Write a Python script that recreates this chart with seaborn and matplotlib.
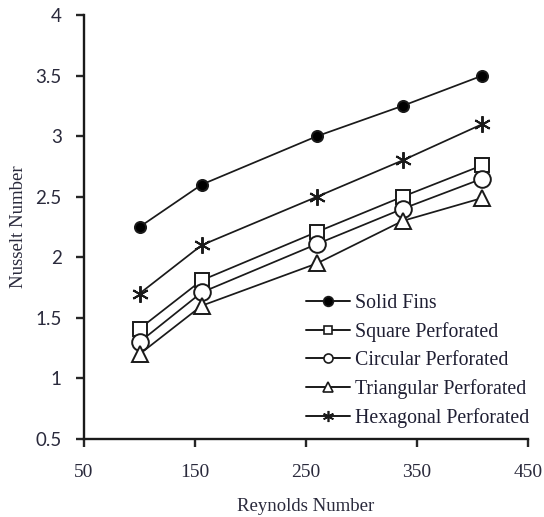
import matplotlib
matplotlib.use("Agg")
import matplotlib.pyplot as plt
import seaborn as sns
import pandas as pd
from matplotlib.lines import Line2D

reynolds = [100, 156, 260, 337, 409]
solid = [2.25, 2.6, 3.0, 3.25, 3.5]
square = [1.41, 1.81, 2.21, 2.5, 2.76]
circular = [1.3, 1.71, 2.11, 2.4, 2.65]
triangular = [1.2, 1.6, 1.95, 2.3, 2.49]
hexagonal = [1.7, 2.1, 2.5, 2.8, 3.1]

series_names = ["Solid Fins", "Square Perforated", "Circular Perforated",
                "Triangular Perforated", "Hexagonal Perforated"]
series_vals = [solid, square, circular, triangular, hexagonal]
x_ticks = [50, 150, 250, 350, 450]
y_ticks = [0.5, 1, 1.5, 2, 2.5, 3, 3.5, 4]

sns.set_style("white")
plt.rcParams['font.family'] = ['Liberation Serif', 'DejaVu Serif']

styles = {
    "Solid Fins": dict(marker='o', markerfacecolor='black', ms=8, lms=7),
    "Square Perforated": dict(marker='s', markerfacecolor='white', ms=10.5, lms=6),
    "Circular Perforated": dict(marker='o', markerfacecolor='white', ms=12, lms=6.5),
    "Triangular Perforated": dict(marker='^', markerfacecolor='white', ms=12, lms=6.5),
    "Hexagonal Perforated": dict(marker=(6, 2, 0), markerfacecolor='black', ms=12, lms=8),
}

fig = plt.figure(figsize=(5.44, 5.17), dpi=100)
ax = fig.add_axes([84/544, 1-439/517, (528-84)/544, (439-15)/517])

handles = []
for name, vals in zip(series_names, series_vals):
    df = pd.DataFrame({"Reynolds": reynolds, "Nu": vals})
    st = styles[name]
    sns.lineplot(data=df, x="Reynolds", y="Nu", ax=ax, color='#1a1a1a', lw=1.25,
                 marker=st['marker'], markersize=st['ms'],
                 markerfacecolor=st['markerfacecolor'], markeredgecolor='#1a1a1a',
                 markeredgewidth=1.4, legend=False)
    handles.append(Line2D([], [], color='#1a1a1a', lw=1.4, marker=st['marker'],
                          markersize=st['lms'], markerfacecolor=st['markerfacecolor'],
                          markeredgecolor='#1a1a1a', markeredgewidth=1.2, label=name))

ax.set_xlim(50, 450)
ax.set_ylim(0.5, 4)
ax.set_xticks(x_ticks)
ax.set_yticks(y_ticks)
ax.set_yticklabels([f"{v:g}" for v in y_ticks], family=['Lato', 'DejaVu Sans'],
                   fontsize=13.5, color='#2a2a3c')
ax.set_xticklabels([str(v) for v in x_ticks], fontsize=14, color='#2a2a3c')
for s in ['top', 'right']:
    ax.spines[s].set_visible(False)
for s in ['left', 'bottom']:
    ax.spines[s].set_linewidth(1.7)
    ax.spines[s].set_color('#1a1a1a')
ax.tick_params(axis='y', direction='out', length=6, width=1.7, pad=10, left=True)
ax.tick_params(axis='x', direction='out', length=6, width=1.7, pad=12, bottom=True)
ax.set_xlabel("Reynolds Number", fontsize=13.5, color='#2a2a3c', labelpad=12)
ax.set_ylabel("Nusselt Number", fontsize=13.5, color='#2a2a3c', labelpad=6)

leg = ax.legend(handles=handles, loc='upper left', bbox_to_anchor=(0.482, 0.36),
                frameon=False, fontsize=14.3, handlelength=2.2, handletextpad=0.25,
                labelspacing=0.45, borderaxespad=0)
for t in leg.get_texts():
    t.set_color('#1f1f33')

fig.savefig("out.png", dpi=100)
